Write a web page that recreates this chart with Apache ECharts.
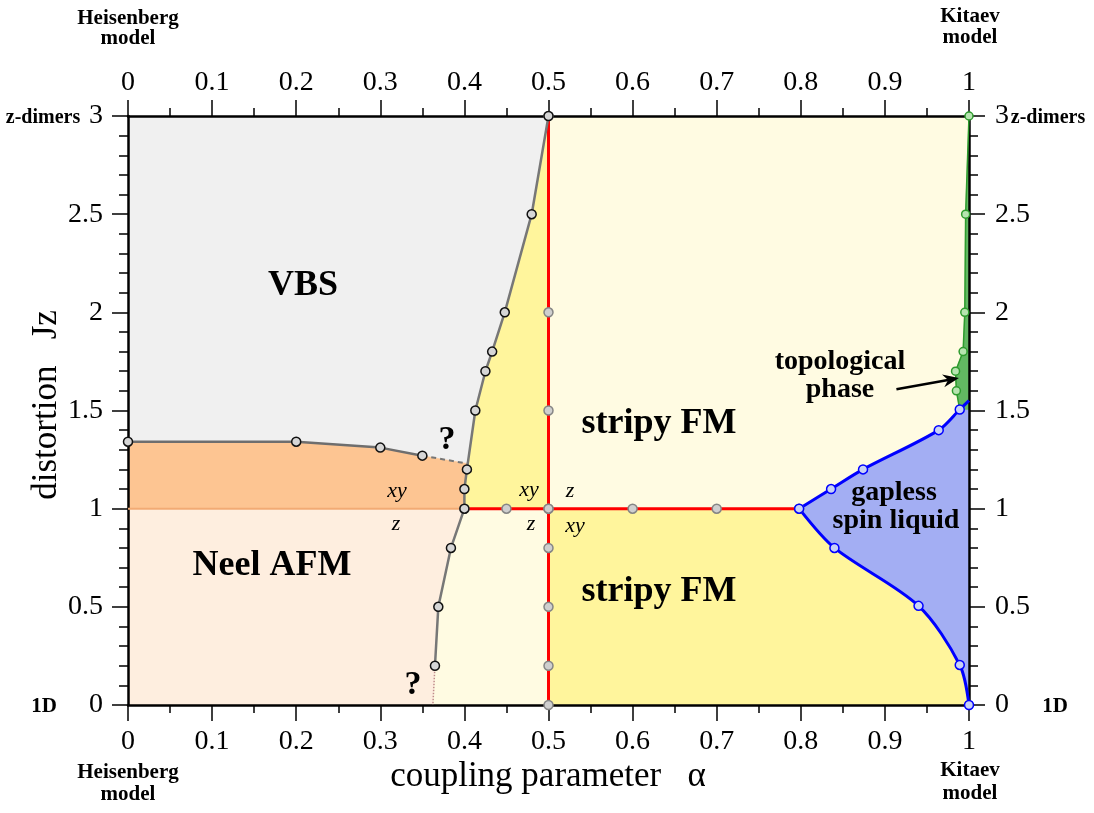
<!DOCTYPE html>
<html><head><meta charset="utf-8">
<script src="https://cdn.jsdelivr.net/npm/echarts@6/dist/echarts.min.js"></script>
<style>html,body{margin:0;padding:0;background:#fff}#c{width:1094px;height:813px}</style>
</head><body><div id="c"></div>
<script>
// ---------------- data ----------------
const xTickValues = [0, 0.1, 0.2, 0.3, 0.4, 0.5, 0.6, 0.7, 0.8, 0.9, 1];
const xTickLabels = ['0','0.1','0.2','0.3','0.4','0.5','0.6','0.7','0.8','0.9','1'];
const yTickValues = [0, 0.5, 1, 1.5, 2, 2.5, 3];
const yTickLabels = ['0','0.5','1','1.5','2','2.5','3'];

// VBS / stripy / Neel boundary (gray, with markers)
const grayAlpha = [0.365, 0.369, 0.384, 0.400, 0.400, 0.403, 0.413, 0.425, 0.433, 0.448, 0.480, 0.500];
const grayJz    = [0.20,  0.50,  0.80,  1.00,  1.10,  1.20,  1.50,  1.70,  1.80,  2.00,  2.50,  3.00];
const grayFoot  = [0.3625, 0];          // dotted continuation down to Jz = 0

// Neel / VBS boundary
const neelAlpha = [0, 0.20, 0.30, 0.35];
const neelJz    = [1.341, 1.341, 1.311, 1.270];
const neelJunction = [0.403, 1.23];     // end of the dashed part

// red stripy boundaries
const redHAlpha = [0.40, 0.45, 0.50, 0.60, 0.70, 0.798];
const redHJz    = [1, 1, 1, 1, 1, 1];
const redVAlpha = [0.5, 0.5, 0.5, 0.5, 0.5, 0.5, 0.5, 0.5];
const redVJz    = [0, 0.2, 0.5, 0.8, 1.0, 1.5, 2.0, 3.0];

// gapless spin liquid boundary (blue)
const blueUpperAlpha = [0.798, 0.836, 0.874, 0.964, 0.989, 1.0];
const blueUpperJz    = [1.00,  1.10,  1.20,  1.40,  1.505, 1.55];
const blueLowerAlpha = [0.798, 0.840, 0.940, 0.989, 1.0];
const blueLowerJz    = [1.00,  0.80,  0.505, 0.204, 0];

// topological phase boundary (green)
const greenAlpha = [0.989, 0.985, 0.984, 0.993, 0.995, 0.996, 1.0];
const greenJz    = [1.505, 1.60,  1.70,  1.80,  2.00,  2.50,  3.00];

// arrow to the topological phase
const arrowFrom = [0.9137, 1.608];
const arrowTo   = [0.988, 1.665];

// ---------------- build geometry from the arrays ----------------
const zip = (a, b) => a.map((v, i) => [v, b[i]]);
const gray = zip(grayAlpha, grayJz);
const neel = zip(neelAlpha, neelJz);
const grayBelow1 = gray.filter(p => p[1] <= 1);
const grayAbove1 = gray.filter(p => p[1] >= 1);
const grayAboveJ = gray.filter(p => p[1] > neelJunction[1]);
const grayBetween = gray.filter(p => p[1] >= 1 && p[1] < neelJunction[1]);

const C = {
  vbs: '#f0f0f0', orange: '#fdc592', lightOrange: '#feeedf',
  yellow: '#fff59c', lightYellow: '#fffbe2', blue: '#a3aef3', green: '#62b862'
};

const regions = [
  { color: C.vbs, pts: [[0, 3], ...grayAboveJ.slice().reverse(), neelJunction, ...neel.slice().reverse()] },
  { color: C.orange, pts: [...neel, neelJunction, ...grayBetween.slice().reverse(), [0, 1]] },
  { color: C.lightOrange, pts: [[0, 0], [0, 1], ...grayBelow1.slice().reverse(), grayFoot] },
  { color: C.lightYellow, pts: [grayFoot, ...grayBelow1, [0.5, 1], [0.5, 0]] },
  { color: C.yellow, pts: [...grayAbove1, [0.5, 1]] },
  { color: C.lightYellow, pts: [[0.5, 1], [0.5, 3], [1, 3], [1, 1]] },
  { color: C.yellow, pts: [[0.5, 0], [0.5, 1], [1, 1], [1, 0]] }
];

function polySeries(reg, z) {
  return {
    type: 'custom', coordinateSystem: 'cartesian2d', z: z, silent: true, clip: false,
    data: [[reg.pts[0][0], reg.pts[0][1]]],
    renderItem: function (params, api) {
      return { type: 'polygon', shape: { points: reg.pts.map(p => api.coord(p)) },
               style: { fill: reg.color, stroke: reg.color, lineWidth: 0.5 } };
    }
  };
}

const mk = (fill, border, size) => ({ symbol: 'circle', symbolSize: size || 9,
  itemStyle: { color: fill, borderColor: border, borderWidth: 1.5 } });

function lineS(data, color, width, opts) {
  return Object.assign({
    type: 'line', data: data, z: 4, clip: false, silent: true, animation: false,
    lineStyle: { color: color, width: width }, showSymbol: true
  }, opts || {});
}

const SMOOTH = 0.3;
const series = [];
regions.forEach(r => series.push(polySeries(r, 1)));

// blue region: areas between each boundary curve and Jz = 1 (same smoothing as the lines)
const blueUp = zip(blueUpperAlpha, blueUpperJz);
const blueLo = zip(blueLowerAlpha, blueLowerJz);
series.push({ type: 'line', data: blueUp, z: 2, smooth: SMOOTH, clip: false, silent: true,
  showSymbol: false, symbol: 'none', lineStyle: { width: 0, opacity: 0 },
  areaStyle: { color: C.blue, opacity: 1, origin: 1 } });
series.push({ type: 'line', data: blueLo, z: 2, smooth: SMOOTH, clip: false, silent: true,
  showSymbol: false, symbol: 'none', lineStyle: { width: 0, opacity: 0 },
  areaStyle: { color: C.blue, opacity: 1, origin: 1 } });
series.push({ type: 'line', data: [[blueUpperAlpha[0], 1], [1, 1]], z: 2, clip: false, silent: true,
  symbol: 'none', lineStyle: { color: C.blue, width: 1.5 } });
// green region
series.push(polySeries({ color: C.green, pts: [...zip(greenAlpha, greenJz), [1, greenJz[0]]] }, 2));

// boundary lines
series.push(lineS([[0, 1], [0.4, 1]], '#f2ab74', 2, { symbol: 'none' }));
series.push(lineS([[0.365, 0.2], grayFoot], '#c08a8a', 1.5, { symbol: 'none', lineStyle: { color: '#c08a8a', width: 1.5, type: 'dotted' } }));
series.push(lineS([neel[neel.length - 1], neelJunction], '#777', 2, { symbol: 'none', lineStyle: { color: '#777', width: 2, type: [5, 4] } }));
series.push(lineS(zip(redVAlpha, redVJz), '#ff0000', 3, mk('#cfcfcf', '#858585')));
series.push(lineS(zip(redHAlpha, redHJz), '#ff0000', 3, mk('#cfcfcf', '#858585')));
series.push(lineS(neel, '#6e6e6e', 2.5, mk('#d6d6d6', '#111')));
series.push(lineS(gray, '#777', 2.5, mk('#d6d6d6', '#111')));
series.push(lineS(zip(greenAlpha, greenJz).map((p, i) => i === 0 ? { value: p, symbol: 'none' } : p),
  '#2e9b2e', 1.5, mk('#b7e4b0', '#2e9b2e', 8)));
series.push(lineS(blueUp.map((p, i) => i === blueUp.length - 1 ? { value: p, symbol: 'none' } : p),
  '#0000ff', 3, Object.assign(mk('#c9d2f5', '#0000ff'), { smooth: SMOOTH })));
series.push(lineS(blueLo.map((p, i) => i === 0 ? { value: p, symbol: 'none' } : p),
  '#0000ff', 3, Object.assign(mk('#c9d2f5', '#0000ff'), { smooth: SMOOTH })));

function xAx(pos) {
  return {
    type: 'value', position: pos, min: 0, max: 1, interval: 0.1, z: 3,
    axisLine: { show: true, onZero: false, lineStyle: { color: '#000', width: 2.5 } },
    axisTick: { show: true, length: 16, lineStyle: { color: '#000', width: 1.5 } },
    minorTick: { show: true, splitNumber: 2, length: 8, lineStyle: { color: '#000', width: 1.5 } },
    splitLine: { show: false }, minorSplitLine: { show: false },
    axisLabel: { show: false }
  };
}
function yAx(pos) {
  return {
    type: 'value', position: pos, min: 0, max: 3, interval: 0.5, z: 3,
    axisLine: { show: true, onZero: false, lineStyle: { color: '#000', width: 2.5 } },
    axisTick: { show: true, length: 16, lineStyle: { color: '#000', width: 1.5 } },
    minorTick: { show: true, splitNumber: 5, length: 9, lineStyle: { color: '#000', width: 1.5 } },
    splitLine: { show: false }, minorSplitLine: { show: false },
    axisLabel: { show: false }
  };
}

const chart = echarts.init(document.getElementById('c'), null, { renderer: 'canvas' });
chart.setOption({
  animation: false,
  backgroundColor: '#fff',
  grid: { left: 128, right: 125, top: 116, bottom: 108, containLabel: false },
  xAxis: [xAx('bottom'), xAx('top')],
  yAxis: [yAx('left'), yAx('right')],
  series: series
});

// ---------------- text, tick labels & arrow ----------------
function txt(s, x, y, font, extra, align) {
  return Object.assign({ type: 'text', x: x, y: y, z: 100, silent: true,
    style: { text: s, font: font, fill: '#000', align: align || 'center', verticalAlign: 'middle' } }, extra || {});
}
const FF = '"Liberation Serif", serif';
const B21 = 'bold 21px ' + FF, B20 = 'bold 20px ' + FF, B36 = 'bold 36px ' + FF,
      B28 = 'bold 28px ' + FF, I22 = 'italic 22px ' + FF, R34 = '35px ' + FF, B34 = 'bold 34px ' + FF,
      R28 = '28px ' + FF;
const px = v => chart.convertToPixel({ gridIndex: 0 }, v);
const gBottom = px([0, 0])[1], gTop = px([0, 3])[1], gLeft = px([0, 0])[0], gRight = px([1, 0])[0];

const graphics = [];
xTickValues.forEach((v, i) => {
  const x = px([v, 0])[0];
  graphics.push(txt(xTickLabels[i], x, gBottom + 37, R28));
  graphics.push(txt(xTickLabels[i], x, gTop - 33, R28));
});
yTickValues.forEach((v, i) => {
  const y = px([0, v])[1];
  graphics.push(txt(yTickLabels[i], gLeft - 25, y, R28, null, 'right'));
  graphics.push(txt(yTickLabels[i], gRight + 26, y, R28, null, 'left'));
});

const p0 = px(arrowFrom), p1 = px(arrowTo);
const ang = Math.atan2(p1[1] - p0[1], p1[0] - p0[0]);
const hl = 16, hw = 6.5, back = 11;
const tip = p1;
const baseC = [tip[0] - hl * Math.cos(ang), tip[1] - hl * Math.sin(ang)];
const notch = [tip[0] - back * Math.cos(ang), tip[1] - back * Math.sin(ang)];
const perp = [-Math.sin(ang), Math.cos(ang)];
const headPts = [tip, [baseC[0] + hw * perp[0], baseC[1] + hw * perp[1]], notch, [baseC[0] - hw * perp[0], baseC[1] - hw * perp[1]]];

graphics.push(
  txt('Heisenberg', 128, 19, B21), txt('model', 128, 39, B21),
  txt('Kitaev', 970, 17, B21), txt('model', 970, 38, B21),
  txt('Heisenberg', 128, 773, B21), txt('model', 128, 795, B21),
  txt('Kitaev', 970, 771, B21), txt('model', 970, 794, B21),
  txt('z-dimers', 43, 118, B20), txt('z-dimers', 1048, 118, B20),
  txt('1D', 44, 707, B21), txt('1D', 1055, 707, B21),
  txt('coupling parameter   \u03b1', 548, 777, R34),
  txt('distortion   Jz', 47, 405, R34, { rotation: Math.PI / 2 }),
  txt('VBS', 303, 286, B36), txt('Neel AFM', 272, 566, B36),
  txt('stripy FM', 659, 424, B36), txt('stripy FM', 659, 592, B36),
  txt('topological', 840, 362, B28), txt('phase', 840, 390, B28),
  txt('gapless', 894, 493, B28), txt('spin liquid', 896, 521, B28),
  txt('?', 447, 440, B34), txt('?', 413, 685, B34),
  txt('xy', 397, 491, I22), txt('z', 396, 524, I22),
  txt('xy', 529, 490, I22), txt('z', 570, 491, I22),
  txt('z', 531, 524, I22), txt('xy', 575, 526, I22),
  { type: 'line', z: 100, silent: true, shape: { x1: p0[0], y1: p0[1], x2: notch[0], y2: notch[1] },
    style: { stroke: '#000', lineWidth: 2.5 } },
  { type: 'polygon', z: 100, silent: true, shape: { points: headPts }, style: { fill: '#000' } }
);
chart.setOption({ graphic: graphics });
</script>
</body></html>
